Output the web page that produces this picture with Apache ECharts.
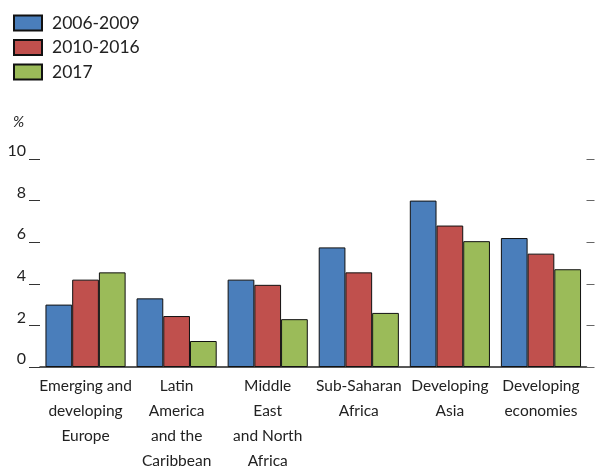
<!DOCTYPE html>
<html>
<head>
<meta charset="utf-8">
<script src="https://cdn.jsdelivr.net/npm/echarts@6/dist/echarts.min.js"></script>
<style>
html,body{margin:0;padding:0;background:#fff;}
#chart{width:595px;height:468px;}
</style>
</head>
<body>
<div id="chart"></div>
<script>
var categories = [
  "Emerging and\ndeveloping\nEurope",
  "Latin\nAmerica\nand the\nCaribbean",
  "Middle\nEast\nand North\nAfrica",
  "Sub-Saharan\nAfrica",
  "Developing\nAsia",
  "Developing\neconomies"
];
var seriesNames = ["2006-2009", "2010-2016", "2017"];
var values2006_2009 = [3.0, 3.3, 4.2, 5.75, 8.0, 6.2];
var values2010_2016 = [4.2, 2.45, 3.95, 4.55, 6.8, 5.45];
var values2017 = [4.55, 1.25, 2.3, 2.6, 6.05, 4.7];
var yTicks = [0, 2, 4, 6, 8, 10];

var colors = ["#4a7ebb", "#c0504d", "#9bbb59"];
var font = "Lato, 'Open Sans', sans-serif";

var chart = echarts.init(document.getElementById('chart'));
function bar(name, data, color) {
  return {
    name: name, type: 'bar', data: data, yAxisIndex: 0,
    barGap: '0%', barCategoryGap: '12%',
    itemStyle: { color: color, borderColor: '#111', borderWidth: 1 }
  };
}
chart.setOption({
  animation: false,
  textStyle: { fontFamily: font },
  legend: {
    orient: 'vertical', left: 13, top: 14, padding: 0,
    icon: 'rect',
    itemWidth: 28, itemHeight: 15, itemGap: 6.5,
    data: seriesNames,
    textStyle: { fontSize: 17.5, color: '#222', fontFamily: font, padding: [0, 0, 0, 5] }
  },
  graphic: [{
    type: 'text', left: 13, top: 115,
    style: { text: '%', fontSize: 15, fontStyle: 'italic', fill: '#222', fontFamily: font }
  }],
  grid: { left: 40, right: 8.5, top: 159, bottom: 101, outerBoundsMode: 'none', containLabel: false },
  xAxis: {
    type: 'category', data: categories,
    axisLine: { lineStyle: { color: '#222', width: 1.5 } },
    axisTick: { show: false },
    axisLabel: { interval: 0, fontSize: 15.5, lineHeight: 25, color: '#222', margin: 6, fontFamily: font }
  },
  yAxis: [{
    type: 'value', min: 0, max: 10, interval: 2,
    axisLine: { show: false },
    splitLine: { show: false },
    axisTick: { show: true, length: 11, lineStyle: { color: '#333' } },
    axisLabel: {
      fontSize: 16, color: '#222', margin: 14, verticalAlign: 'bottom', fontFamily: font,
      formatter: function (v) { return yTicks.indexOf(v) >= 0 ? String(v) : ''; }
    }
  }, {
    type: 'value', min: 0, max: 10, interval: 2, position: 'right',
    axisLine: { show: false },
    splitLine: { show: false },
    axisTick: { show: true, length: 8, lineStyle: { color: '#666' } },
    axisLabel: { show: false }
  }],
  series: [
    bar(seriesNames[0], values2006_2009, colors[0]),
    bar(seriesNames[1], values2010_2016, colors[1]),
    bar(seriesNames[2], values2017, colors[2])
  ]
});
</script>
</body>
</html>
